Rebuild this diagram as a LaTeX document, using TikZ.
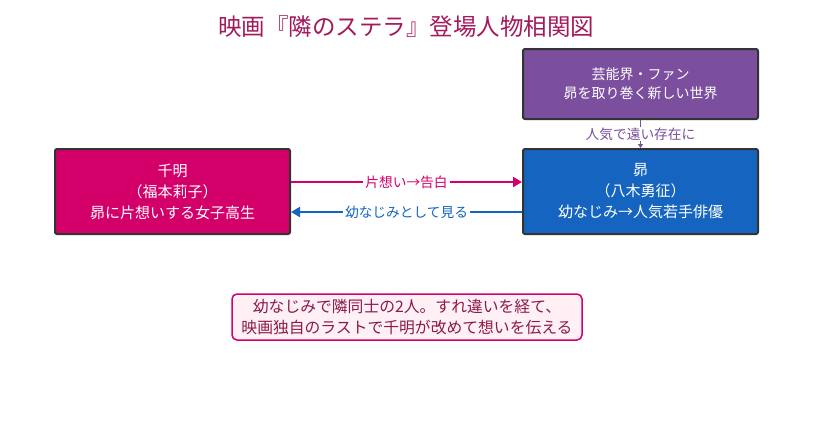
\documentclass[tikz,border=0pt]{standalone}
\usepackage{fontspec}
\setmainfont{Noto Sans CJK JP}
\usetikzlibrary{arrows.meta}
\definecolor{cmag}{HTML}{D3006A}
\definecolor{cblue}{HTML}{1565C0}
\definecolor{cpurp}{HTML}{7B4F9E}
\definecolor{cborder}{HTML}{333333}
\definecolor{ctitle}{HTML}{A3195B}
\definecolor{cnotefill}{HTML}{FFF0F5}
\definecolor{cnotetext}{HTML}{8B1A4A}
\tikzset{
  person/.style={draw=cborder, line width=2pt, rounded corners=2pt, minimum width=235pt, minimum height=85pt, text=white, align=center, font=\fontsize{15pt}{21pt}\selectfont, inner sep=0pt},
  lbl/.style={fill=white, inner sep=2pt, font=\fontsize{13.7pt}{16pt}\selectfont},
  conn/.style={line width=2pt, -{Triangle[length=9pt,width=10pt]}},
}
\begin{document}
\begin{tikzpicture}[x=1pt,y=-1pt]
\useasboundingbox (0,0) rectangle (813,434);
\node[text=ctitle, font=\fontsize{23.5pt}{26pt}\selectfont] (title) at (406,27) {映画『隣のステラ』登場人物相関図};
\node[person, fill=cpurp, minimum height=70pt, font=\fontsize{14pt}{19pt}\selectfont] (fan) at (640.5,84) {芸能界・ファン\\昴を取り巻く新しい世界};
\node[person, fill=cmag] (chiaki) at (172.5,191.5) {千明\\（福本莉子）\\昴に片想いする女子高生};
\node[person, fill=cblue] (subaru) at (640.5,191.5) {昴\\（八木勇征）\\幼なじみ→人気若手俳優};
\draw[conn, cmag] (chiaki.east |- 0,182) -- node[lbl, text=cmag] (l1) {片想い→告白} (subaru.west |- 0,182);
\draw[conn, cblue] (subaru.west |- 0,212) -- node[lbl, text=cblue] (l2) {幼なじみとして見る} (chiaki.east |- 0,212);
\draw[line width=1.5pt, cpurp, -{Triangle[length=4pt,width=5pt]}] (fan.south) -- node[lbl, text=cpurp, inner sep=1pt] (l3) {人気で遠い存在に} (subaru.north);
\node[draw=cmag, line width=1.5pt, fill=cnotefill, rounded corners=5pt, text=cnotetext, align=center, font=\fontsize{15.8pt}{21pt}\selectfont, minimum width=350pt, minimum height=46pt, inner sep=0pt] (note) at (407,317) {幼なじみで隣同士の2人。すれ違いを経て、\\映画独自のラストで千明が改めて想いを伝える};
\end{tikzpicture}
\end{document}
